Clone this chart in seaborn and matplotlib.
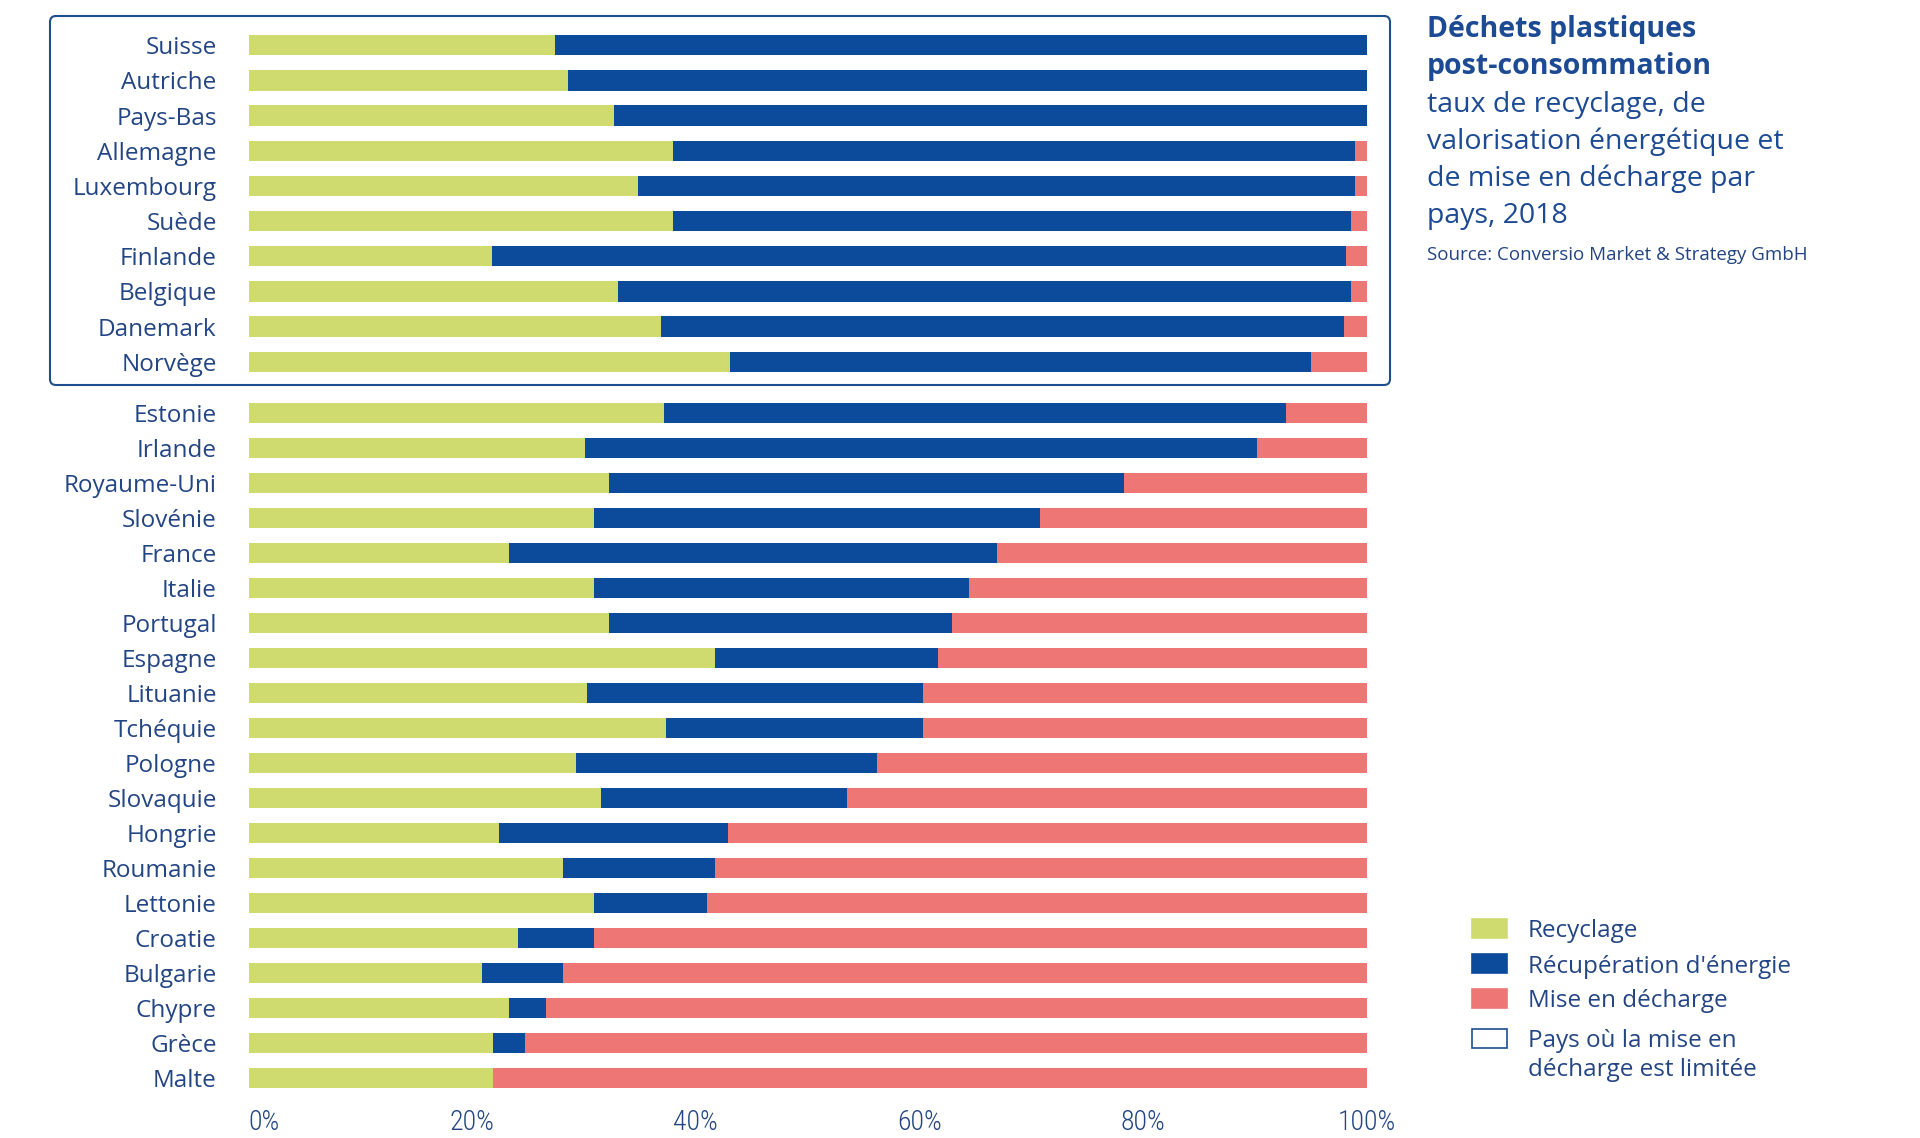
import matplotlib
matplotlib.use("Agg")
import pandas as pd
import seaborn as sns
import matplotlib.pyplot as plt
from matplotlib import font_manager
from matplotlib.patches import FancyBboxPatch, Rectangle
from matplotlib.transforms import IdentityTransform

# pays ou la mise en decharge est limitee (encadres)
pays_haut = ["Suisse", "Autriche", "Pays-Bas", "Allemagne", "Luxembourg",
             "Suède", "Finlande", "Belgique", "Danemark", "Norvège"]
recyclage_haut = [27.4, 28.6, 32.7, 38.0, 34.8, 38.0, 21.8, 33.0, 36.9, 43.1]
energie_haut = [72.6, 71.4, 67.3, 61.0, 64.2, 60.6, 76.4, 65.6, 61.1, 51.9]
decharge_haut = [0.0, 0.0, 0.0, 1.0, 1.0, 1.4, 1.8, 1.4, 2.0, 5.0]

pays_bas = ["Estonie", "Irlande", "Royaume-Uni", "Slovénie", "France", "Italie",
            "Portugal", "Espagne", "Lituanie", "Tchéquie", "Pologne", "Slovaquie",
            "Hongrie", "Roumanie", "Lettonie", "Croatie", "Bulgarie", "Chypre",
            "Grèce", "Malte"]
recyclage_bas = [37.2, 30.1, 32.2, 30.9, 23.3, 30.9, 32.2, 41.7, 30.3, 37.3,
                 29.3, 31.5, 22.4, 28.1, 30.9, 24.1, 20.9, 23.3, 21.9, 21.9]
energie_bas = [55.6, 60.1, 46.1, 39.9, 43.6, 33.5, 30.7, 20.0, 30.0, 23.0,
               26.9, 22.0, 20.5, 13.6, 10.1, 6.8, 7.2, 3.3, 2.8, 0.0]
decharge_bas = [7.2, 9.8, 21.7, 29.2, 33.1, 35.6, 37.1, 38.3, 39.7, 39.7,
                43.8, 46.5, 57.1, 58.3, 59.0, 69.1, 71.9, 73.4, 75.3, 78.1]

ticks = [0, 20, 40, 60, 80, 100]
tick_labels = ["0%", "20%", "40%", "60%", "80%", "100%"]

VERT = "#cfdb6f"
BLEU = "#0c4b9b"
ROSE = "#ee7675"
TXT = "#234584"
TITRE = "#1c4a93"

sns.set_style("white")
plt.rcParams["font.family"] = ["Open Sans", "Lato", "DejaVu Sans"]


def poids(f):
    try:
        return int(f.weight)
    except (TypeError, ValueError):
        return {"light": 300, "normal": 400, "regular": 400, "book": 400}.get(str(f.weight), 700)


# police etroite et fine pour les graduations, si une variante condensee existe
police_ticks = font_manager.FontProperties(family="Lato")
for nom in ["Liberation Sans Narrow", "Roboto Condensed", "Open Sans", "Noto Sans",
            "Roboto", "DejaVu Sans"]:
    trouve = [f for f in font_manager.fontManager.ttflist
              if f.name == nom and f.style == "normal"
              and (nom.endswith(("Narrow", "Condensed")) or f.stretch in ("condensed", "semi-condensed"))
              and poids(f) <= 400]
    if trouve:
        trouve.sort(key=lambda f: (f.stretch != "condensed", poids(f)))
        police_ticks = font_manager.FontProperties(fname=trouve[0].fname)
        break

W, H = 1920, 1138
fig = plt.figure(figsize=(W / 100, H / 100), dpi=100)


def fx(px):
    return px / W


def fy(py):
    return 1 - py / H


def barres(ax, pays, rec, ene, dec):
    df = pd.DataFrame({"pays": pays, "rec": rec, "ene": ene, "dec": dec})
    df["total"] = df["rec"] + df["ene"] + df["dec"]
    df["rec_ene"] = df["rec"] + df["ene"]
    # on empile en superposant les cumuls, du plus long au plus court
    for col, c in [("total", ROSE), ("rec_ene", BLEU), ("rec", VERT)]:
        sns.barplot(data=df, x=col, y="pays", orient="h", color=c, saturation=1,
                    width=0.58, linewidth=0, errorbar=None, ax=ax)
    ax.set_xlim(0, 100)
    ax.set_xlabel("")
    ax.set_ylabel("")
    sns.despine(ax=ax, left=True, bottom=True)
    ax.tick_params(axis="y", length=0, pad=23, labelsize=17.5, labelcolor=TXT)
    ax.set_facecolor("none")


x0, x1 = 248.6, 1366.6
ax_haut = fig.add_axes([fx(x0), fy(379.3), fx(x1) - fx(x0), fy(27.7) - fy(379.3)])
ax_bas = fig.add_axes([fx(x0), fy(1095.5), fx(x1) - fx(x0), fy(395.5) - fy(1095.5)])

barres(ax_haut, pays_haut, recyclage_haut, energie_haut, decharge_haut)
barres(ax_bas, pays_bas, recyclage_bas, energie_bas, decharge_bas)

ax_haut.set_xticks([])
ax_bas.set_xticks(ticks)
ax_bas.set_xticklabels(tick_labels, fontproperties=police_ticks, fontsize=20, color=TXT)
ax_bas.get_xticklabels()[0].set_ha("left")
ax_bas.tick_params(axis="x", length=0, pad=10)

# cadre arrondi autour des pays du haut
cadre = FancyBboxPatch((50, H - 385), 1340, 369, boxstyle="round,pad=0,rounding_size=6",
                       transform=IdentityTransform(), facecolor="none",
                       edgecolor="#1f4e8c", linewidth=1.5)
fig.add_artist(cadre)

# titre
tx = fx(1427)
fig.text(tx, fy(37), "Déchets plastiques", fontsize=20.5, fontweight="bold", color=TITRE, va="baseline")
fig.text(tx, fy(74), "post-consommation", fontsize=20.5, fontweight="bold", color=TITRE, va="baseline")
for i, ligne in enumerate(["taux de recyclage, de", "valorisation énergétique et",
                           "de mise en décharge par", "pays, 2018"]):
    fig.text(tx, fy(112 + 37 * i), ligne, fontsize=20.5, color=TITRE, va="baseline")
fig.text(tx, fy(260), "Source: Conversio Market & Strategy GmbH", fontsize=13.5,
         color=TXT, va="baseline")

# legende
entrees = [(VERT, VERT, 919, "Recyclage", 937),
           (BLEU, BLEU, 954, "Récupération d'énergie", 973),
           (ROSE, ROSE, 989, "Mise en décharge", 1007),
           ("white", "#1f4e8c", 1029, "Pays où la mise en", 1047)]
for fc, ec, top, label, base in entrees:
    fig.add_artist(Rectangle((1472, H - top - 19), 35, 19, transform=IdentityTransform(),
                             facecolor=fc, edgecolor=ec, linewidth=1.2))
    fig.text(fx(1528), fy(base), label, fontsize=17.5, color=TXT, va="baseline")
fig.text(fx(1528), fy(1076), "décharge est limitée", fontsize=17.5, color=TXT, va="baseline")

fig.savefig("out.png", dpi=100, facecolor="white")
